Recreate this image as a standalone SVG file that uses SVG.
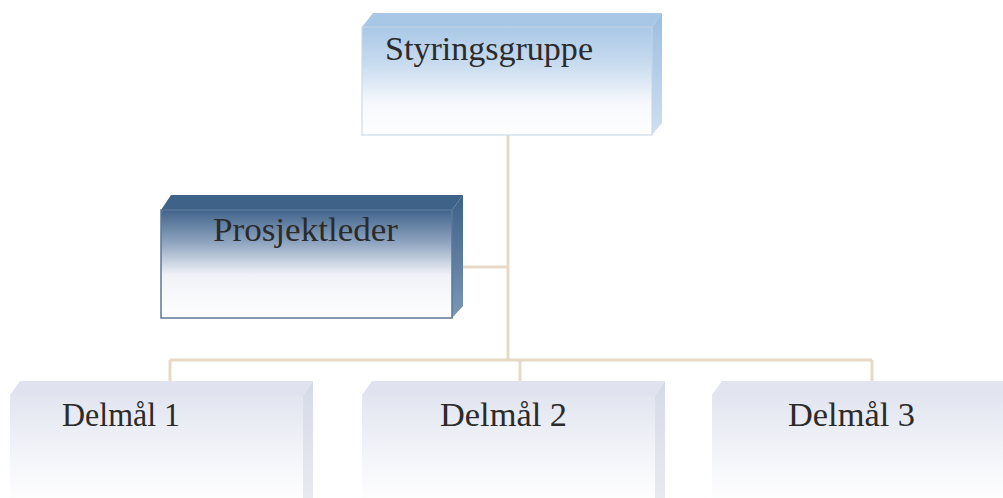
<svg xmlns="http://www.w3.org/2000/svg" width="1003" height="498" viewBox="0 0 1003 498">
<defs>
<linearGradient id="gBlue" x1="0" y1="0" x2="0" y2="1">
<stop offset="0" stop-color="#a9c8e7"/><stop offset="0.35" stop-color="#c9dcef"/><stop offset="0.7" stop-color="#f6f8fc"/><stop offset="1" stop-color="#ffffff"/>
</linearGradient>
<linearGradient id="gDark" x1="0" y1="0" x2="0" y2="1">
<stop offset="0" stop-color="#41648b"/><stop offset="0.3" stop-color="#8ea4bf"/><stop offset="0.6" stop-color="#f0f2f7"/><stop offset="1" stop-color="#ffffff"/>
</linearGradient>
<linearGradient id="gGrey" x1="0" y1="0" x2="0" y2="1">
<stop offset="0" stop-color="#e2e5f0"/><stop offset="0.6" stop-color="#f5f6fa"/><stop offset="1" stop-color="#ffffff"/>
</linearGradient>
<linearGradient id="gSideBlue" x1="0" y1="0" x2="0" y2="1">
<stop offset="0" stop-color="#9cbde0"/><stop offset="1" stop-color="#cfe0f1"/>
</linearGradient>
<linearGradient id="gSideDark" x1="0" y1="0" x2="0" y2="1">
<stop offset="0" stop-color="#3d6088"/><stop offset="1" stop-color="#7a97b6"/>
</linearGradient>
<linearGradient id="gSideGrey" x1="0" y1="0" x2="0" y2="1">
<stop offset="0" stop-color="#d6dae8"/><stop offset="1" stop-color="#e8eaf2"/>
</linearGradient>
</defs>
<style>
.t{font-family:"Liberation Serif","DejaVu Serif",serif;font-size:33px;fill:#2b2b2b}
.c{stroke:#e6dac6;stroke-width:3;fill:none}
</style>
<rect width="1003" height="498" fill="#ffffff"/>
<g id="connectors">
<path class="c" d="M508 135 V360"/>
<path class="c" d="M463 267 H508"/>
<path class="c" d="M170 360 H872"/>
<path class="c" d="M170 360 V381"/>
<path class="c" d="M520 360 V381"/>
<path class="c" d="M872 360 V381"/>
</g>
<g id="styringsgruppe">
<path d="M362 27 L373 13 H662 L652 27 Z" fill="#a8c7e6"/>
<path d="M652 27 L662 13 V123 L652 135 Z" fill="url(#gSideBlue)"/>
<rect x="362" y="27" width="290" height="108" fill="url(#gBlue)" stroke="#c3d5e8" stroke-width="1"/>
<text class="t" x="385" y="60" textLength="208" lengthAdjust="spacingAndGlyphs">Styringsgruppe</text>
</g>
<g id="prosjektleder">
<path d="M161 210 L171 195 H463 L452 210 Z" fill="#3f6289"/>
<path d="M452 210 L463 195 V306 L452 318 Z" fill="url(#gSideDark)"/>
<rect x="161" y="210" width="291" height="108" fill="url(#gDark)" stroke="#5a7898" stroke-width="1.5"/>
<text class="t" x="213" y="241" textLength="185" lengthAdjust="spacingAndGlyphs">Prosjektleder</text>
</g>
<g id="delmal1">
<path d="M10 395 L20 381 H313 L303 395 Z" fill="#e0e3ef"/>
<path d="M303 395 L313 381 V498 H303 Z" fill="url(#gSideGrey)"/>
<rect x="10" y="395" width="293" height="110" fill="url(#gGrey)"/>
<text class="t" x="62" y="426" textLength="118" lengthAdjust="spacingAndGlyphs">Delmål 1</text>
</g>
<g id="delmal2">
<path d="M362 395 L372 381 H665 L655 395 Z" fill="#e0e3ef"/>
<path d="M655 395 L665 381 V498 H655 Z" fill="url(#gSideGrey)"/>
<rect x="362" y="395" width="293" height="110" fill="url(#gGrey)"/>
<text class="t" x="440" y="426" textLength="127" lengthAdjust="spacingAndGlyphs">Delmål 2</text>
</g>
<g id="delmal3">
<path d="M712 395 L722 381 H1003 V395 Z" fill="#e2e5f0"/>
<rect x="712" y="395" width="291" height="110" fill="url(#gGrey)"/>
<text class="t" x="788" y="426" textLength="127" lengthAdjust="spacingAndGlyphs">Delmål 3</text>
</g>
</svg>
